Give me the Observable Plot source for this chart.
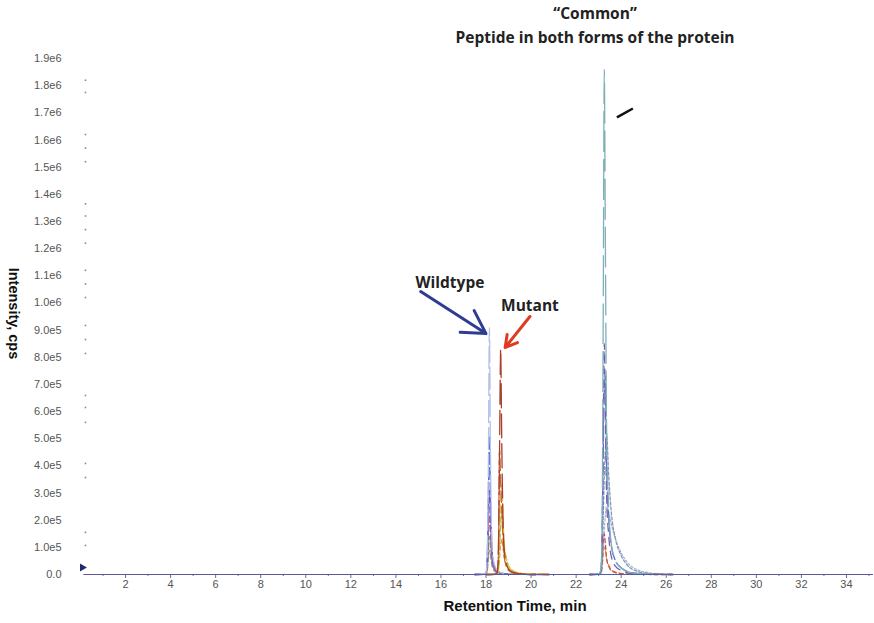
<!DOCTYPE html>
<html>
<head>
<meta charset="utf-8">
<script src="https://cdn.jsdelivr.net/npm/d3@7"></script>
<script src="https://cdn.jsdelivr.net/npm/@observablehq/plot@0.6"></script>
<style>
  html, body { margin: 0; padding: 0; background: #fff; }
  #chart svg { display: block; }
</style>
</head>
<body>
<div id="chart"></div>
<script>
// ---- Data (retention time in min, intensity in cps) ----
const wtTime = [17.5, 17.9, 18.0, 18.05, 18.1, 18.15, 18.2, 18.25, 18.3, 18.4, 18.5, 18.7, 19.0, 19.5, 20.2];
const wtLavender = [0, 1e3, 8e3, 6e4, 3.5e5, 9.1e5, 4.2e5, 1.6e5, 7e4, 3e4, 1.5e4, 6e3, 2e3, 5e2, 0];
const wtBlue     = [0, 1e3, 6e3, 5e4, 2.6e5, 5.1e5, 2.8e5, 1.3e5, 6e4, 2.6e4, 1.2e4, 5e3, 2e3, 5e2, 0];
const wtPurple   = [0, 1e3, 5e3, 4e4, 1.8e5, 3.1e5, 2.0e5, 9e4, 4.5e4, 2e4, 1e4, 4e3, 1.5e3, 4e2, 0];
const wtPink     = [0, 5e2, 4e3, 3e4, 1.3e5, 2.2e5, 1.5e5, 7e4, 3.5e4, 1.6e4, 8e3, 3e3, 1e3, 3e2, 0];
const wtGreen    = [0, 5e2, 3e3, 2e4, 8e4, 1.4e5, 1.1e5, 6e4, 3e4, 1.4e4, 7e3, 3e3, 1e3, 2e2, 0];
const wtGray     = [0, 3e2, 2e3, 1e4, 5e4, 9e4, 7e4, 4e4, 2.2e4, 1.1e4, 6e3, 2.5e3, 8e2, 2e2, 0];

const mtTime = [18.0, 18.4, 18.5, 18.55, 18.6, 18.65, 18.7, 18.75, 18.8, 18.9, 19.0, 19.2, 19.5, 20.0, 20.8];
const mtRed    = [0, 1e3, 8e3, 9e4, 4.5e5, 8.3e5, 4.8e5, 2.2e5, 1.0e5, 4e4, 2e4, 8e3, 3e3, 8e2, 0];
const mtBrown  = [0, 1e3, 6e3, 7e4, 4.6e5, 3.4e5, 2.4e5, 1.4e5, 7e4, 3e4, 1.5e4, 6e3, 2e3, 6e2, 0];
const mtYellow = [0, 5e2, 4e3, 3e4, 1.5e5, 2.6e5, 3.3e5, 2.2e5, 1.2e5, 6e4, 3e4, 1.2e4, 4e3, 1e3, 0];
const mtGreen  = [0, 5e2, 3e3, 2e4, 1e5, 1.8e5, 2.5e5, 1.8e5, 1.1e5, 6e4, 3.2e4, 1.4e4, 5e3, 1.2e3, 0];
const mtOrange = [0, 3e2, 2e3, 1.5e4, 6e4, 1.1e5, 1.3e5, 1e5, 7e4, 4e4, 2.4e4, 1.1e4, 4e3, 1e3, 0];

const cmTime = [22.6, 23.0, 23.1, 23.15, 23.2, 23.25, 23.3, 23.35, 23.45, 23.55, 23.75, 24.0, 24.3, 24.7, 25.2, 25.8, 26.3];
const cmTeal     = [0, 2e3, 2e4, 1.5e5, 9e5, 1.86e6, 1.2e6, 5.5e5, 2.4e5, 1.2e5, 5e4, 2.4e4, 1e4, 4e3, 1.5e3, 5e2, 0];
const cmPurple   = [0, 1e3, 1.5e4, 1.2e5, 5e5, 8.5e5, 6e5, 3e5, 1.4e5, 7e4, 3e4, 1.5e4, 6e3, 2e3, 8e2, 2e2, 0];
const cmBlue     = [0, 1e3, 1.2e4, 1e5, 4.2e5, 6.8e5, 7.3e5, 4.2e5, 2e5, 1.1e5, 5e4, 2.5e4, 1e4, 4e3, 1.5e3, 4e2, 0];
const cmGrayBlue = [0, 8e2, 8e3, 5e4, 2e5, 3.6e5, 4.6e5, 5.2e5, 3.6e5, 2.4e5, 1.3e5, 7e4, 3.2e4, 1.2e4, 4e3, 1.2e3, 0];
const cmLight    = [0, 5e2, 4e3, 2.5e4, 9e4, 1.6e5, 2.2e5, 2.5e5, 2.3e5, 1.9e5, 1.3e5, 8e4, 4.2e4, 1.8e4, 7e3, 2e3, 0];
const cmRed      = [0, 5e2, 5e3, 4e4, 1.2e5, 1.5e5, 1.1e5, 6e4, 3e4, 1.5e4, 7e3, 3e3, 1e3, 4e2, 1e2, 0, 0];
const cmOrange   = [0, 3e2, 3e3, 2.5e4, 7e4, 1e5, 9e4, 6e4, 3.5e4, 1.8e4, 9e3, 4e3, 1.5e3, 5e2, 2e2, 0, 0];

// faint marks next to the intensity axis
const leftMarkTime = 0.22;
const leftMarkValues = [1.82e6, 1.775e6, 1.62e6, 1.57e6, 1.52e6, 1.365e6, 1.32e6, 1.27e6, 1.22e6, 1.12e6, 1.07e6, 1.02e6,
  9.17e5, 8.65e5, 8.14e5, 6.59e5, 6.15e5, 5.6e5, 4.09e5, 3.57e5, 1.55e5, 1.07e5];

const yTicks = d3.range(0, 1.9e6 + 1, 1e5);
const xMajorTicks = d3.range(2, 35, 2);
const xMinorTicks = d3.range(1, 36, 2);

// annotations (data coordinates)
const wildtypeLabel = {x: 16.4, y: 1.075e6, text: "Wildtype"};
const wildtypeArrow = {x1: 15.1, y1: 1.042e6, x2: 18.0, y2: 8.87e5};
const mutantLabel = {x: 19.95, y: 9.87e5, text: "Mutant"};
const mutantArrow = {x1: 19.95, y1: 9.5e5, x2: 18.85, y2: 8.36e5};
const commonLabels = [
  {x: 22.84, y: 2.062e6, text: "\u201CCommon\u201D"},
  {x: 22.84, y: 1.977e6, text: "Peptide in both forms of the protein"}
];
const commonTick = {x1: 23.81, y1: 1.683e6, x2: 24.52, y2: 1.716e6};

// ---- Build traces ----
const traces = [
  {time: wtTime, vals: wtGray,     color: "#9a9a9a", dash: "5,3"},
  {time: wtTime, vals: wtGreen,    color: "#6aa84f", dash: "6,3"},
  {time: wtTime, vals: wtPink,     color: "#d0587a", dash: "6,3"},
  {time: wtTime, vals: wtPurple,   color: "#8a4fa8", dash: "7,3"},
  {time: wtTime, vals: wtBlue,     color: "#5b6fd2", dash: "12,3"},
  {time: wtTime, vals: wtLavender, color: "#b3c1ea", dash: "22,5"},
  {time: mtTime, vals: mtOrange,   color: "#e8a040", dash: "4,3"},
  {time: mtTime, vals: mtGreen,    color: "#9bbf3a", dash: "6,3"},
  {time: mtTime, vals: mtYellow,   color: "#e0c830", dash: "8,4"},
  {time: mtTime, vals: mtBrown,    color: "#c8643c", dash: "12,4"},
  {time: mtTime, vals: mtRed,      color: "#a8402c", dash: "24,6"},
  {time: cmTime, vals: cmLight,    color: "#a9b3cf", dash: "2,2"},
  {time: cmTime, vals: cmOrange,   color: "#e09a40", dash: "4,3"},
  {time: cmTime, vals: cmRed,      color: "#c05050", dash: "4,3"},
  {time: cmTime, vals: cmGrayBlue, color: "#8796bd", dash: "3,2"},
  {time: cmTime, vals: cmBlue,     color: "#5570c0", dash: "14,4"},
  {time: cmTime, vals: cmPurple,   color: "#7a5cb0", dash: "8,6"},
  {time: cmTime, vals: cmTeal,     color: "#7fb0b8", dash: "40,8"}
];

const lineMarks = traces.map(tr =>
  Plot.line(tr.time.map((t, i) => ({t, v: tr.vals[i]})), {
    x: "t", y: "v", stroke: tr.color, strokeWidth: 1.3,
    strokeDasharray: tr.dash, curve: "monotone-x"
  })
);

const yFmt = d => d === 0 ? "0.0" : d < 1e6 ? (d / 1e5).toFixed(1) + "e5" : (d / 1e6).toFixed(1) + "e6";

const annFont = "'Open Sans', sans-serif";

const chart = Plot.plot({
  width: 874,
  height: 623,
  marginTop: 58,
  marginBottom: 49,
  marginLeft: 80,
  marginRight: 1,
  style: {fontFamily: "'Liberation Sans', Arial, sans-serif", background: "#fff"},
  x: {domain: [0, 35.2]},
  y: {domain: [0, 1.9e6]},
  marks: [
    Plot.axisY({ticks: yTicks, tickFormat: yFmt, tickSize: 0, tickPadding: 19, fontSize: 11, color: "#555", label: null}),
    Plot.axisX({ticks: xMajorTicks, tickFormat: d => String(d), tickSize: 4, tickPadding: 2, fontSize: 11, color: "#555", stroke: "#6b6b9a", label: null}),
    Plot.axisX({ticks: xMinorTicks, tickFormat: () => "", tickSize: 2, stroke: "#6b6b9a", label: null}),
    Plot.dot(leftMarkValues, {x: () => leftMarkTime, y: d => d, symbol: "square", r: 0.9, fill: "#888", stroke: "none"}),
    ...lineMarks,
    Plot.ruleY([0], {x1: 0.15, x2: 35.2, stroke: "#5a5aa0", strokeWidth: 1.2}),
    Plot.dot([{x: 0.08, y: 2.6e4}], {x: "x", y: "y", symbol: "triangle", r: 3, fill: "#1f2a6b", stroke: "none", rotate: 90}),
    Plot.arrow([wildtypeArrow], {x1: "x1", y1: "y1", x2: "x2", y2: "y2", stroke: "#2e3d91", strokeWidth: 3, headLength: 14}),
    Plot.arrow([mutantArrow], {x1: "x1", y1: "y1", x2: "x2", y2: "y2", stroke: "#e03a20", strokeWidth: 3, headLength: 14}),
    Plot.link([commonTick], {x1: "x1", y1: "y1", x2: "x2", y2: "y2", stroke: "#111", strokeWidth: 2.5}),
    Plot.text([wildtypeLabel, mutantLabel, ...commonLabels], {x: "x", y: "y", text: "text", fontFamily: annFont, fontWeight: "bold", fontSize: 15.5, fill: "#222"}),
    Plot.text(["Intensity, cps"], {frameAnchor: "left", textAnchor: "middle", dx: -67, dy: -3, rotate: 90, fontWeight: "bold", fontSize: 14.5, fill: "#111"}),
    Plot.text(["Retention Time, min"], {frameAnchor: "bottom", dx: 38, dy: 36, fontWeight: "bold", fontSize: 15, fill: "#111"})
  ]
});

document.getElementById("chart").appendChild(chart);
</script>
</body>
</html>
